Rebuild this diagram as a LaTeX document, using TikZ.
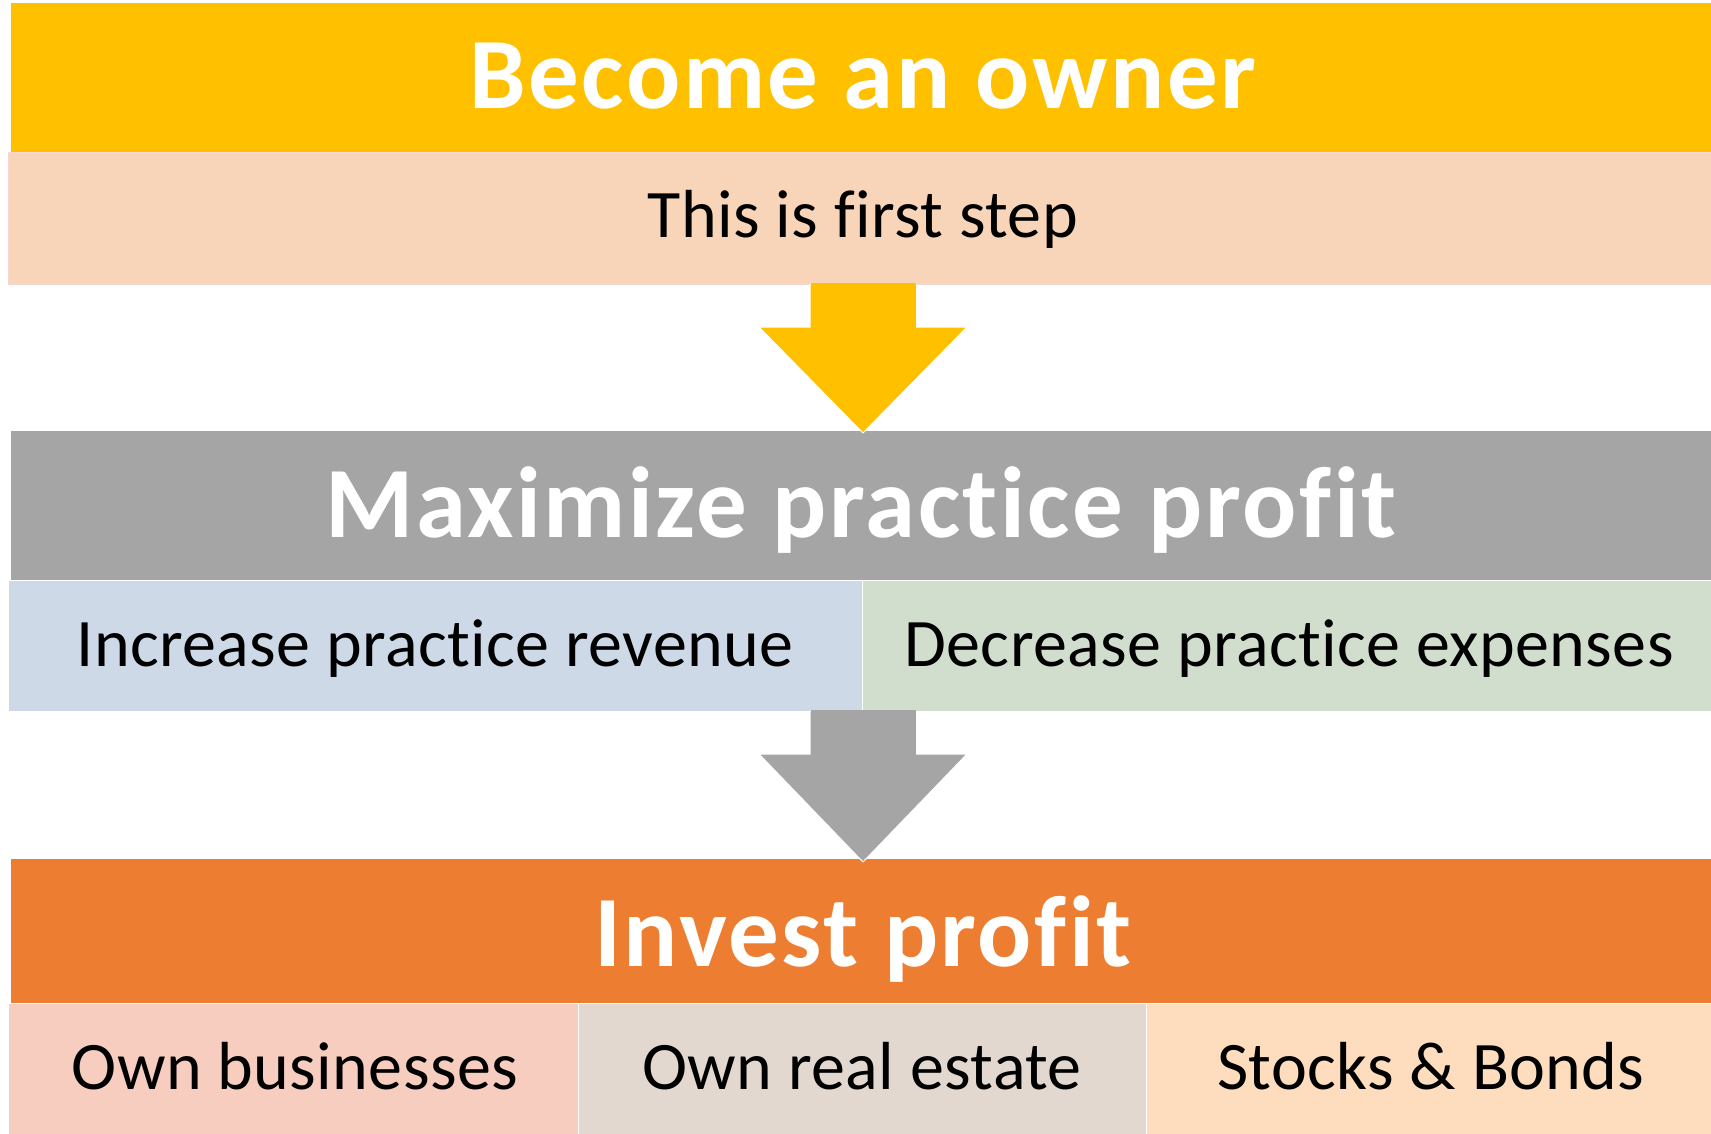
\documentclass[tikz,border=0pt]{standalone}
\usepackage{fontspec}
\setmainfont[Ligatures=NoCommon]{Carlito}
\newfontfamily\titlefont[Ligatures=NoCommon, LetterSpace=2.5]{Carlito}
\newfontfamily\labelfont[Ligatures=NoCommon, LetterSpace=0.6]{Carlito}
\usetikzlibrary{calc}
\definecolor{ownyellow}{HTML}{FFC000}
\definecolor{peach}{HTML}{F8D5B9}
\definecolor{peachline}{HTML}{F6D6D2}
\definecolor{midgray}{HTML}{A5A5A5}
\definecolor{paleblue}{HTML}{CDD9E7}
\definecolor{palegreen}{HTML}{D1DECD}
\definecolor{deeporange}{HTML}{ED7D31}
\definecolor{salmon}{HTML}{F6CDBE}
\definecolor{taupe}{HTML}{E3D8CF}
\definecolor{apricot}{HTML}{FDDDBD}
\begin{document}
\begin{tikzpicture}[x=1pt,y=-1pt,
  band/.style={rectangle, inner sep=0pt, outer sep=0pt, anchor=north west},
  subband/.style={band, draw=white, line width=1pt},
  title/.style={anchor=base, text=white, inner sep=0pt,
    font=\titlefont\fontsize{101}{110}\selectfont\bfseries},
  label/.style={anchor=base, text=black, inner sep=0pt,
    font=\labelfont\fontsize{68}{76}\selectfont},
  blockarrow/.style={draw=white, line width=1pt, line join=miter}]
\useasboundingbox (0,0) rectangle (1711,1134);

% --- step 1: become an owner
\node[band, fill=ownyellow, minimum width=1700pt, minimum height=150pt] (head1) at (11,3) {};
\node[subband, fill=peach, draw=peachline, minimum width=1703pt, minimum height=131pt] (sub1) at (8,153) {};
\node[title] (t1) at (863,109) {Become an owner};
\node[label] (l1) at (863,238) {This is first step};

% --- step 2: maximize practice profit
\node[band, fill=midgray, minimum width=1700pt, minimum height=149pt] (head2) at (11,431) {};
\node[subband, fill=paleblue, minimum width=854pt, minimum height=131pt] (sub2a) at (8,580) {};
\node[subband, fill=palegreen, minimum width=849pt, minimum height=131pt] (sub2b) at (862,580) {};
\node[title] (t2) at (861,537) {Maximize practice profit};
\node[label] (l2a) at (435,666) {Increase practice revenue};
\node[label] (l2b) at (1289,666) {Decrease practice expenses};

% --- step 3: invest profit
\node[band, fill=deeporange, minimum width=1700pt, minimum height=144pt] (head3) at (11,859) {};
\node[subband, fill=salmon, minimum width=570pt, minimum height=131pt] (sub3a) at (8,1003) {};
\node[subband, fill=taupe, minimum width=568pt, minimum height=131pt] (sub3b) at (578,1003) {};
\node[subband, fill=apricot, minimum width=565pt, minimum height=131pt] (sub3c) at (1146,1003) {};
\node[title] (t3) at (863,966) {Invest profit};
\node[label] (l3a) at (295,1089) {Own businesses};
\node[label] (l3b) at (862,1089) {Own real estate};
\node[label] (l3c) at (1431,1089) {Stocks \& Bonds};

% --- block arrows between the steps
\coordinate (a1top) at (863,284);
\coordinate (a1tip) at (863,433);
\coordinate (a2top) at (863,711);
\coordinate (a2tip) at (863,862);
\foreach \top/\tip/\col in {a1top/a1tip/ownyellow, a2top/a2tip/midgray}{
  \filldraw[blockarrow, fill=\col]
    ($(\top)+(-53,0)$) -- ($(\top)+(53,0)$) -- ($(\top)+(53,43)$)
    -- ($(\top)+(104,43)$) -- (\tip) -- ($(\top)+(-104,43)$)
    -- ($(\top)+(-53,43)$) -- cycle;
  \fill[\col] ($(\top)+(-52.5,-1)$) rectangle ($(\top)+(52.5,44)$);
}
\end{tikzpicture}
\end{document}
